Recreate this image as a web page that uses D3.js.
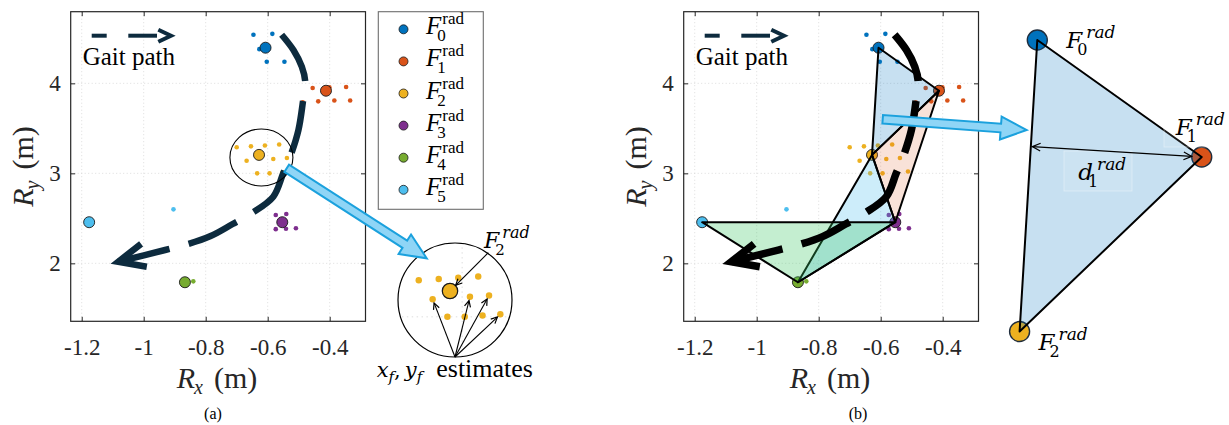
<!DOCTYPE html>
<html><head><meta charset="utf-8">
<script src="https://cdn.jsdelivr.net/npm/d3@7"></script>
<style>body{margin:0;background:#fff}svg{display:block}</style>
</head><body>
<svg id="c" width="1229" height="425"></svg>
<script>
// ---------------- data ----------------
const xTickValues = [-1.2, -1, -0.8, -0.6, -0.4];
const xTickLabels = ["-1.2", "-1", "-0.8", "-0.6", "-0.4"];
const yTickValues = [2, 3, 4];
const yTickLabels = ["2", "3", "4"];
const landmarkSubs = ["0", "1", "2", "3", "4", "5"];
const landmarkColors = ["#0072BD", "#D95319", "#EDB120", "#7E2F8E", "#77AC30", "#4DBEEE"];
const landmarkX = [-0.607, -0.412, -0.628, -0.553, -0.867, -1.176];
const landmarkY = [4.396, 3.918, 3.205, 2.457, 1.790, 2.457];
const est0X = [-0.646, -0.585, -0.627, -0.603, -0.546];
const est0Y = [4.54, 4.55, 4.38, 4.24, 4.24];
const est1X = [-0.455, -0.401, -0.347, -0.487, -0.437, -0.385, -0.334];
const est1Y = [3.948, 3.956, 3.96, 3.79, 3.80, 3.81, 3.81];
const est2X = [-0.700, -0.654, -0.609, -0.563, -0.668, -0.582, -0.538, -0.634, -0.594, -0.553, -0.512];
const est2Y = [3.29, 3.30, 3.31, 3.32, 3.14, 3.16, 3.17, 3.00, 3.00, 3.01, 3.02];
const est3X = [-0.574, -0.540, -0.574, -0.541, -0.509];
const est3Y = [2.537, 2.548, 2.38, 2.385, 2.39];
const est4X = [-0.840];
const est4Y = [1.80];
const est5X = [-0.904];
const est5Y = [2.60];
const gaitX = [-0.555, -0.517, -0.490, -0.479, -0.487, -0.501, -0.528, -0.550, -0.582, -0.652, -0.713, -0.786, -0.867, -0.931, -1.082];
const gaitY = [4.54, 4.37, 4.185, 4.02, 3.78, 3.48, 3.18, 3.00, 2.74, 2.556, 2.437, 2.30, 2.204, 2.148, 2.018];
const triangleVertices = [[0, 1, 2], [1, 2, 3], [2, 3, 4], [3, 4, 5]];
const triangleColors = ["#0072BD", "#D95319", "#4DBEEE", "#3CC864"];
const triangleOpacity = [0.22, 0.17, 0.28, 0.30];
const insetTargets = [4, 5, 6, 10];   // F2 estimates pointed at in the zoom inset

const estSets = [[est0X, est0Y], [est1X, est1Y], [est2X, est2Y], [est3X, est3Y], [est4X, est4Y], [est5X, est5Y]];

// ---------------- setup ----------------
const SERIF = "'Liberation Serif','Times New Roman',serif";
const MATH = "'DejaVu Serif',serif";
const INK = "#262626";
const NAVY = "#0d2b3e";
const svg = d3.select("#c");

const x = d3.scaleLinear().domain([-1.2355, -0.2845]).range([70.7, 365.5]);
const y = d3.scaleLinear().domain([1.356, 4.796]).range([321.3, 11.7]);
const OFF_B = 613;

function drawGrid(g) {
  const [x0, x1] = x.range(), [y0, y1] = y.range();
  g.append("g").selectAll("line").data(xTickValues).join("line")
    .attr("x1", d => x(d)).attr("x2", d => x(d)).attr("y1", y1).attr("y2", y0);
  g.append("g").selectAll("line").data(yTickValues).join("line")
    .attr("x1", x0).attr("x2", x1).attr("y1", d => y(d)).attr("y2", d => y(d));
  g.selectAll("line").attr("stroke", "#d4d4d4").attr("stroke-width", 0.8).attr("stroke-dasharray", "1,2.5");
}

function drawAxes(g) {
  const [x0, x1] = x.range(), [y0, y1] = y.range();
  const fmtX = d => xTickLabels[xTickValues.indexOf(d)];
  const fmtY = d => yTickLabels[yTickValues.indexOf(d)];
  const b = g.append("g").attr("transform", `translate(0,${y0})`)
    .call(d3.axisBottom(x).tickValues(xTickValues).tickFormat(fmtX).tickSize(-4.5).tickSizeOuter(0).tickPadding(17));
  const t = g.append("g").attr("transform", `translate(0,${y1})`)
    .call(d3.axisTop(x).tickValues(xTickValues).tickFormat("").tickSize(-4.5).tickSizeOuter(0));
  const l = g.append("g").attr("transform", `translate(${x0},0)`)
    .call(d3.axisLeft(y).tickValues(yTickValues).tickFormat(fmtY).tickSize(-4.5).tickSizeOuter(0).tickPadding(10));
  const r = g.append("g").attr("transform", `translate(${x1},0)`)
    .call(d3.axisRight(y).tickValues(yTickValues).tickFormat("").tickSize(-4.5).tickSizeOuter(0));
  [b, t, l, r].forEach(a => {
    a.attr("font-family", SERIF);
    a.select(".domain").remove();
    a.selectAll(".tick line").attr("stroke", INK).attr("stroke-width", 1);
    a.selectAll("text").attr("font-family", SERIF).attr("font-size", 23).attr("fill", INK);
  });
  g.append("rect").attr("x", x0).attr("y", y1).attr("width", x1 - x0).attr("height", y0 - y1)
    .attr("fill", "none").attr("stroke", INK).attr("stroke-width", 1.2);
}

function axisTitle(parent, cx, cy, rot, sub) {
  const t = parent.append("text").attr("x", 0).attr("y", 0).attr("text-anchor", "middle")
    .attr("font-family", SERIF).attr("fill", INK)
    .attr("transform", `translate(${cx},${cy}) rotate(${rot})`);
  t.append("tspan").attr("font-style", "italic").attr("font-size", 30).text("R");
  t.append("tspan").attr("font-style", "italic").attr("font-size", 20).attr("dx", -1).attr("dy", 6).text(sub);
  t.append("tspan").attr("font-size", 30).attr("dx", 11).attr("dy", -6).text("(m)");
}

function drawEstimates(g, r) {
  estSets.forEach((s, i) => {
    g.append("g").selectAll("circle").data(d3.range(s[0].length)).join("circle")
      .attr("cx", j => x(s[0][j])).attr("cy", j => y(s[1][j])).attr("r", r)
      .attr("fill", landmarkColors[i]);
  });
}

function drawLandmarks(g, r, idx) {
  g.append("g").selectAll("circle").data(idx).join("circle")
    .attr("cx", i => x(landmarkX[i])).attr("cy", i => y(landmarkY[i])).attr("r", r)
    .attr("fill", i => landmarkColors[i]).attr("stroke", "#1a1a1a").attr("stroke-width", 0.9);
}

function drawGait(g, color, width) {
  const pts = gaitX.map((v, i) => [x(v), y(gaitY[i])]);
  const p = g.append("path").attr("d", d3.line().curve(d3.curveCatmullRom.alpha(0.5))(pts))
    .attr("fill", "none").attr("stroke", color).attr("stroke-width", width);
  const L = p.node().getTotalLength();
  const gap = 20, dash = (L - 4 * gap) / 5;
  p.attr("stroke-dasharray", `${dash},${gap}`);
  const tip = pts[pts.length - 1], prev = pts[pts.length - 2];
  const a = Math.atan2(prev[1] - tip[1], prev[0] - tip[0]), s = 29, sp = 0.42;
  g.append("path")
    .attr("d", `M${tip[0] + s * Math.cos(a + sp)},${tip[1] + s * Math.sin(a + sp)}L${tip[0]},${tip[1]}L${tip[0] + s * Math.cos(a - sp)},${tip[1] + s * Math.sin(a - sp)}`)
    .attr("fill", "none").attr("stroke", color).attr("stroke-width", width).attr("stroke-linejoin", "miter");
}

function gaitLegend(g) {
  g.append("line").attr("x1", 91.7).attr("x2", 106.7).attr("y1", 35.7).attr("y2", 35.7);
  g.append("line").attr("x1", 128.3).attr("x2", 157).attr("y1", 35.7).attr("y2", 35.7);
  g.append("path").attr("d", "M158.3,29.7L171,35.7L158.3,41.7").attr("fill", "none");
  g.selectAll("line,path").attr("stroke", NAVY).attr("stroke-width", 4);
  g.append("text").attr("x", 82.7).attr("y", 65).attr("font-family", SERIF).attr("font-size", 25).attr("fill", "#000").text("Gait path");
}

// single text element: italic main, subscript and superscript stacked after it
function mathLabel(g, x0, y0, main, sub, sup, o) {
  const t = g.append("text").attr("x", x0).attr("y", y0).attr("font-family", o.family).attr("fill", "#000");
  t.append("tspan").attr("font-style", "italic").attr("font-size", o.size).text(main);
  const st = t.append("tspan").attr("dx", o.subDx).attr("dy", o.subDy).attr("font-size", o.subSize).text(sub);
  const sw = st.node().getComputedTextLength();
  t.append("tspan").attr("dx", o.supDx - o.subDx - sw).attr("dy", o.supDy - o.subDy)
    .attr("font-style", o.supItalic ? "italic" : "normal").attr("font-size", o.supSize).text(sup);
}

function blockArrow(g, x0, y0, x1, y1) {
  const dx = x1 - x0, dy = y1 - y0, L = Math.hypot(dx, dy), ux = dx / L, uy = dy / L, nx = -uy, ny = ux;
  const sw = 4.3, hw = 11.5, hl = 26;
  const bx = x1 - ux * hl, by = y1 - uy * hl;
  const pts = [[x0 + nx * sw, y0 + ny * sw], [bx + nx * sw, by + ny * sw], [bx + nx * hw, by + ny * hw], [x1, y1],
    [bx - nx * hw, by - ny * hw], [bx - nx * sw, by - ny * sw], [x0 - nx * sw, y0 - ny * sw]];
  g.append("polygon").attr("points", pts.map(p => p.join(",")).join(" "))
    .attr("fill", "#8fd5f6").attr("stroke", "#1ba1dd").attr("stroke-width", 2).attr("stroke-linejoin", "miter");
}

function thinArrow(g, x0, y0, x1, y1, both, size) {
  g.append("line").attr("x1", x0).attr("y1", y0).attr("x2", x1).attr("y2", y1).attr("stroke", "#000").attr("stroke-width", 1.1);
  const head = (tx, ty, fx, fy) => {
    const a = Math.atan2(fy - ty, fx - tx), sp = 0.45;
    g.append("path").attr("d", `M${tx + size * Math.cos(a + sp)},${ty + size * Math.sin(a + sp)}L${tx},${ty}L${tx + size * Math.cos(a - sp)},${ty + size * Math.sin(a - sp)}`)
      .attr("fill", "none").attr("stroke", "#000").attr("stroke-width", 1.2);
  };
  head(x1, y1, x0, y0);
  if (both) head(x0, y0, x1, y1);
}

// ================= Panel (a) =================
const ga = svg.append("g");
drawGrid(ga);
drawEstimates(ga, 2.3);
drawGait(ga, NAVY, 6.5);
drawLandmarks(ga, 5.5, d3.range(6));
drawAxes(ga);
gaitLegend(ga.append("g"));
axisTitle(ga, 217, 388, 0, "x");
axisTitle(ga, 33, 166.5, -90, "y");
ga.append("text").attr("x", 213).attr("y", 419).attr("text-anchor", "middle").attr("font-family", SERIF).attr("font-size", 16).text("(a)");

// legend box
const lg = ga.append("g");
lg.append("rect").attr("x", 378.3).attr("y", 11.7).attr("width", 105).attr("height", 197.6)
  .attr("fill", "#fff").attr("stroke", "#6e6e6e").attr("stroke-width", 1.1);
landmarkSubs.forEach((s, i) => {
  const cy = 29.3 + i * 32.1;
  lg.append("circle").attr("cx", 403.5).attr("cy", cy).attr("r", 4.5).attr("fill", landmarkColors[i]).attr("stroke", "#1a1a1a").attr("stroke-width", 0.8);
  mathLabel(lg, 426, cy + 5, "F", s, "rad", { family: SERIF, size: 25, subSize: 17, subDx: -4, subDy: 7, supSize: 17, supDx: 1, supDy: -10, supItalic: false });
});

// zoom ellipse around F2
const f2px = x(landmarkX[2]), f2py = y(landmarkY[2]);
ga.append("ellipse").attr("cx", f2px + 2.4).attr("cy", f2py + 2.6).attr("rx", 31.5).attr("ry", 28.5)
  .attr("fill", "none").attr("stroke", "#000").attr("stroke-width", 1.1);

// inset magnified view
const insetC = { x: 455, y: 300, r: 57 }, insetAnchor = { x: 450, y: 291 }, mag = 1.4;
svg.append("defs").append("clipPath").attr("id", "insetClip").append("circle")
  .attr("cx", insetC.x).attr("cy", insetC.y).attr("r", insetC.r);
const inset = ga.append("g").attr("clip-path", "url(#insetClip)");
inset.append("circle").attr("cx", insetC.x).attr("cy", insetC.y).attr("r", insetC.r).attr("fill", "#fff");
const zin = inset.append("g").attr("transform", `translate(${insetAnchor.x},${insetAnchor.y}) scale(${mag}) translate(${-f2px},${-f2py})`);
drawGrid(zin);
zin.selectAll("line").attr("stroke-width", 0.8 / mag);
zin.append("g").selectAll("circle").data(d3.range(est2X.length)).join("circle")
  .attr("cx", j => x(est2X[j])).attr("cy", j => y(est2Y[j])).attr("r", 2.3).attr("fill", landmarkColors[2]);
drawLandmarks(zin, 5.5, [2]);
ga.append("circle").attr("cx", insetC.x).attr("cy", insetC.y).attr("r", insetC.r).attr("fill", "none").attr("stroke", "#000").attr("stroke-width", 1.2);
const toInset = (vx, vy) => [insetAnchor.x + mag * (x(vx) - f2px), insetAnchor.y + mag * (y(vy) - f2py)];
const origin = [insetC.x, insetC.y + insetC.r];
insetTargets.forEach(j => {
  const [tx, ty] = toInset(est2X[j], est2Y[j]);
  const d = Math.hypot(tx - origin[0], ty - origin[1]);
  thinArrow(ga, origin[0], origin[1], tx - (tx - origin[0]) / d * 4, ty - (ty - origin[1]) / d * 4, false, 7);
});
{
  const s = [488.3, 252.7], c = toInset(landmarkX[2], landmarkY[2]);
  const d = Math.hypot(c[0] - s[0], c[1] - s[1]);
  thinArrow(ga, s[0], s[1], c[0] - (c[0] - s[0]) / d * 8, c[1] - (c[1] - s[1]) / d * 8, false, 7);
  mathLabel(ga, 484, 248.3, "F", "2", "rad", { family: MATH, size: 22, subSize: 15, subDx: -4, subDy: 7, supSize: 16, supDx: 3, supDy: -10, supItalic: true });
}
{
  const t = ga.append("text").attr("x", 376.7).attr("y", 376.7).attr("fill", "#000").attr("font-family", MATH);
  t.append("tspan").attr("font-style", "italic").attr("font-size", 21).text("x");
  t.append("tspan").attr("font-style", "italic").attr("font-size", 15).attr("dy", 5).text("f");
  t.append("tspan").attr("font-size", 21).attr("dy", -5).text(",");
  t.append("tspan").attr("font-style", "italic").attr("font-size", 21).attr("dx", 4).text("y");
  t.append("tspan").attr("font-style", "italic").attr("font-size", 15).attr("dy", 5).text("f");
  t.append("tspan").attr("font-family", SERIF).attr("font-size", 26).attr("dx", 14).attr("dy", -5).text("estimates");
}
blockArrow(ga, 286.7, 168.3, 426.7, 258.3);

// ================= Panel (b) =================
const gb = svg.append("g").attr("transform", `translate(${OFF_B},0)`);
drawGrid(gb);
drawEstimates(gb, 2.3);
drawLandmarks(gb, 5.5, d3.range(6));
gb.append("g").selectAll("path").data(triangleVertices).join("path")
  .attr("d", v => "M" + v.map(i => [x(landmarkX[i]), y(landmarkY[i])].join(",")).join("L") + "Z")
  .attr("fill", (v, k) => triangleColors[k]).attr("fill-opacity", (v, k) => triangleOpacity[k])
  .attr("stroke", "#000").attr("stroke-width", 2).attr("stroke-linejoin", "round");
drawGait(gb, "#000", 7.5);
drawAxes(gb);
gaitLegend(gb.append("g"));
axisTitle(gb, 217, 388, 0, "x");
axisTitle(gb, 33, 166.5, -90, "y");
svg.append("text").attr("x", 858).attr("y", 419).attr("text-anchor", "middle").attr("font-family", SERIF).attr("font-size", 16).text("(b)");

// ================= Panel (c): magnified triangle F0-F1-F2 =================
const gc = svg.append("g");
const cAnchor = { x: 1037.3, y: 40 }, cMag = 2.72;
const cPts = triangleVertices[0].map(i => ({
  i, x: cAnchor.x + cMag * (x(landmarkX[i]) - x(landmarkX[0])),
  y: cAnchor.y + cMag * (y(landmarkY[i]) - y(landmarkY[0]))
}));
gc.selectAll("circle").data(cPts).join("circle").attr("cx", p => p.x).attr("cy", p => p.y).attr("r", 10)
  .attr("fill", p => landmarkColors[p.i]).attr("stroke", "#1f2d3d").attr("stroke-width", 1.4);
gc.append("path").attr("d", "M" + cPts.map(p => p.x + "," + p.y).join("L") + "Z")
  .attr("fill", triangleColors[0]).attr("fill-opacity", 0.22).attr("stroke", "#000").attr("stroke-width", 2).attr("stroke-linejoin", "round");
{
  const [P0, P1, P2] = cPts;
  const ex = P2.x - P0.x, ey = P2.y - P0.y, el = Math.hypot(ex, ey), ux = ex / el, uy = ey / el;
  const tproj = (P1.x - P0.x) * ux + (P1.y - P0.y) * uy;
  const fx = P0.x + ux * tproj, fy = P0.y + uy * tproj;
  const d = Math.hypot(P1.x - fx, P1.y - fy);
  const ex1 = P1.x - (P1.x - fx) / d * 10, ey1 = P1.y - (P1.y - fy) / d * 10;
  gc.append("rect").attr("x", 1064).attr("y", 151).attr("width", 68).attr("height", 40).attr("fill", "#fff").attr("fill-opacity", 0.1).attr("stroke", "#fff").attr("stroke-opacity", 0.35);
  gc.append("rect").attr("x", 1164).attr("y", 112).attr("width", 62).attr("height", 35).attr("fill", "#fff").attr("fill-opacity", 0.1).attr("stroke", "#fff").attr("stroke-opacity", 0.35);
  thinArrow(gc, fx + 1.5, fy, ex1, ey1, true, 9);
  const o = { family: MATH, size: 23, subSize: 16, subDx: -5, subDy: 7, supSize: 17, supDx: 4, supDy: -10, supItalic: true };
  mathLabel(gc, P0.x + 29, P0.y + 8.3, "F", "0", "rad", o);
  mathLabel(gc, P1.x - 26, P1.y - 21.7, "F", "1", "rad", o);
  mathLabel(gc, P2.x + 19, P2.y + 18.5, "F", "2", "rad", o);
  mathLabel(gc, (fx + P1.x) / 2 - 38, (fy + P1.y) / 2 + 28, "d", "1", "rad", o);
}
blockArrow(svg, 882.7, 119.3, 1026.7, 130);
</script>
</body></html>
